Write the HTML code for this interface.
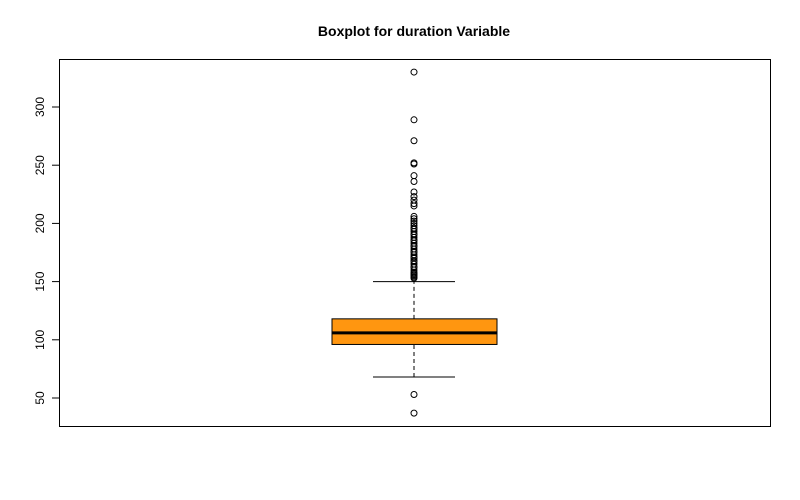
<!DOCTYPE html>
<html><head><meta charset="utf-8"><style>
body{margin:0;background:#fff;}
svg{display:block;font-family:"Liberation Sans",Arial,sans-serif;}
</style></head><body>
<svg width="800" height="500">
<text x="414" y="36" text-anchor="middle" font-size="14" font-weight="bold">Boxplot for duration Variable</text>
<rect x="59.5" y="59.5" width="711" height="367" fill="none" stroke="#000"/>
<g id="yaxis"></g>
<g id="box"></g>
</svg>
<script>
const yTicks=[50,100,150,200,250,300];
const stats=[68,96,106,118,150]; // lower whisker, Q1, median, Q3, upper whisker
const outliers=[330,289,271,252,251,241,236,227,223,220,217,215,206,204,202,200,198,196,195,193,191,190,188,186,185,183,181,180,178,176,175,173,171,170,168,167,165,163,162,160,158,157,156,155,154,153,53,37];
const ns="http://www.w3.org/2000/svg";
function y(v){return 398-(v-50)*1.164;}
const cx=414;
function mk(t,a,p){const e=document.createElementNS(ns,t);for(const k in a)e.setAttribute(k,a[k]);p.appendChild(e);return e;}
const ya=document.getElementById('yaxis');
const ax=mk('line',{x1:59.5,x2:59.5,y1:y(yTicks[0]),y2:y(yTicks[yTicks.length-1]),stroke:'#000'},ya);


yTicks.forEach(t=>{
 const l=mk('line',{x1:52,x2:59.5,y1:y(t),y2:y(t),stroke:'#000'},ya);
 
 
 const tx=mk('text',{x:0,y:0,'font-size':12,'text-anchor':'middle',transform:`translate(44,${y(t)}) rotate(-90)`},ya);
 tx.textContent=t;
 
 
});
const b=document.getElementById('box');
const w1=mk('line',{x1:cx,x2:cx,y1:y(stats[0]),y2:y(stats[1]),stroke:'#000','stroke-dasharray':'4,3'},b);


const w2=mk('line',{x1:cx,x2:cx,y1:y(stats[3]),y2:y(stats[4]),stroke:'#000','stroke-dasharray':'4,3'},b);


[stats[0],stats[4]].forEach(v=>{
 const c=mk('line',{x1:373,x2:455,y1:y(v),y2:y(v),stroke:'#000'},b);
 
 
});
const r=mk('rect',{x:332,width:165,y:y(stats[3]),height:y(stats[1])-y(stats[3]),fill:'#ff9610',stroke:'#000'},b);


const m=mk('line',{x1:332,x2:497,y1:y(stats[2]),y2:y(stats[2]),stroke:'#000','stroke-width':3},b);


outliers.forEach(v=>{
 const c=mk('circle',{cx:cx,cy:y(v),r:3,fill:'none',stroke:'#000'},b);
 
 
});
</script>
</body></html>
